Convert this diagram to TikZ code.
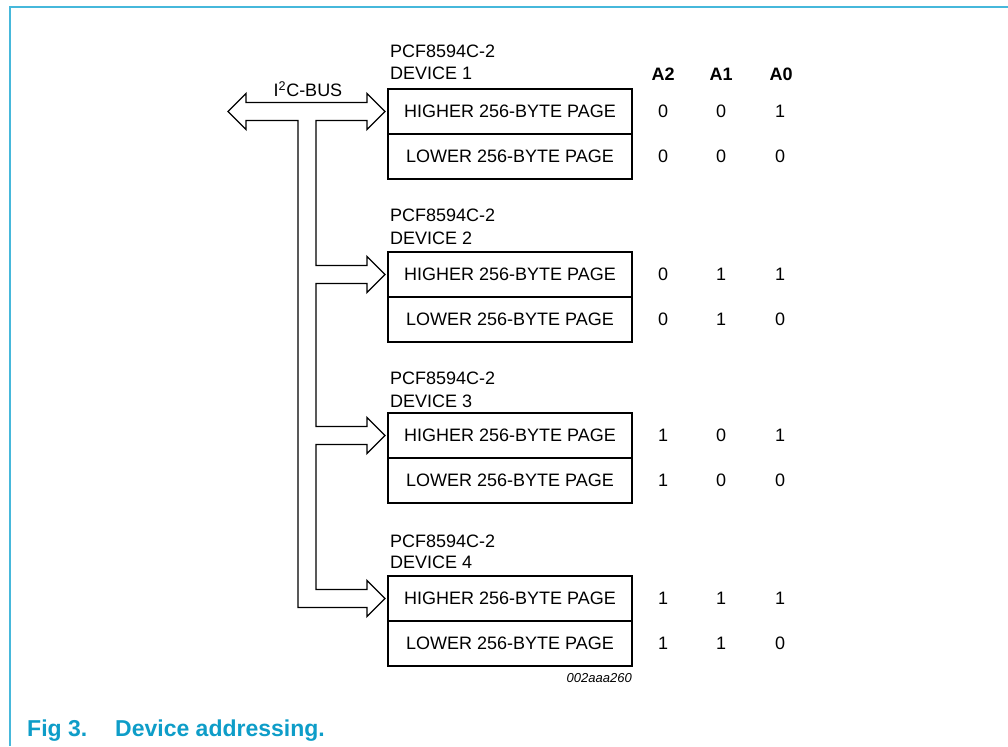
\documentclass[tikz,border=0pt]{standalone}
\usepackage{fontspec}
\setmainfont{Liberation Sans}
\usetikzlibrary{calc}
\definecolor{frameblue}{RGB}{70,184,219}
\definecolor{capblue}{RGB}{14,157,200}
\begin{document}
\begin{tikzpicture}[x=1pt,y=-1pt,
  txt/.style={font=\fontsize{18}{20}\selectfont, inner sep=0pt},
  cell/.style={draw, line width=2pt, minimum width=244pt, minimum height=45pt, inner sep=0pt, font=\fontsize{18}{20}\selectfont},
  hdr/.style={inner sep=0pt, font=\bfseries\fontsize{18}{20}\selectfont},
  captxt/.style={inner sep=0pt, text=capblue, font=\bfseries\fontsize{23}{25}\selectfont},
  busline/.style={line width=1.3pt, line join=miter},
  busarrow/.style={insert path={|- ($(#1.west)+(-20,-9)$) -- ++(0,-9) -- ($(#1.west)+(-2,0)$) -- ++(-18,18) -- ++(0,-9)}}
]
\useasboundingbox (0,0) rectangle (1008,746);
% frame
\draw[frameblue, line width=2.3pt] (10,746) -- (10,6.8) -- (1008,6.8);

% device cells
\node[cell] (h1) at (510,111.5) {HIGHER 256-BYTE PAGE};
\node[cell] (l1) at (510,156.5) {LOWER 256-BYTE PAGE};
\node[cell] (h2) at (510,274.5) {HIGHER 256-BYTE PAGE};
\node[cell] (l2) at (510,319.5) {LOWER 256-BYTE PAGE};
\node[cell] (h3) at (510,435.5) {HIGHER 256-BYTE PAGE};
\node[cell] (l3) at (510,480.5) {LOWER 256-BYTE PAGE};
\node[cell] (h4) at (510,598.5) {HIGHER 256-BYTE PAGE};
\node[cell] (l4) at (510,643.5) {LOWER 256-BYTE PAGE};

% device labels
\node[txt, anchor=west] (p1) at (390,51) {PCF8594C-2};
\node[txt, anchor=west] (d1) at (390,73) {DEVICE 1};
\node[txt, anchor=west] (p2) at (390,215) {PCF8594C-2};
\node[txt, anchor=west] (d2) at (390,238.5) {DEVICE 2};
\node[txt, anchor=west] (p3) at (390,378.5) {PCF8594C-2};
\node[txt, anchor=west] (d3) at (390,401) {DEVICE 3};
\node[txt, anchor=west] (p4) at (390,541) {PCF8594C-2};
\node[txt, anchor=west] (d4) at (390,562.5) {DEVICE 4};

% headers
\node[hdr] (a2) at (663,74) {A2};
\node[hdr] (a1) at (721,74) {A1};
\node[hdr] (a0) at (781,74) {A0};

% address values
\foreach \r/\y/\u/\v/\w in {1/111.5/0/0/1, 2/156.5/0/0/0, 3/274.5/0/1/1, 4/319.5/0/1/0,
                            5/435.5/1/0/1, 6/480.5/1/0/0, 7/598.5/1/1/1, 8/643.5/1/1/0}{
  \node[txt] (v\r a) at (663,\y) {\u};
  \node[txt] (v\r b) at (721,\y) {\v};
  \node[txt] (v\r c) at (780,\y) {\w};
}

% bus
\coordinate (busL) at (228,111.5);
\node[txt, anchor=base] (buslbl) at (308,97) {I\textsuperscript{2}C-BUS};
\draw[busline] (busL) -- ++(18,-18) -- ++(0,9)
  [busarrow=h1] -- ++(-51,0)
  [busarrow=h2] -- ++(-51,0)
  [busarrow=h3] -- ++(-51,0)
  [busarrow=h4] -- ++(-69,0)
  |- ($(busL)+(18,9)$) -- ++(0,9) -- cycle;

% code
\node[inner sep=0pt, anchor=base east, font=\itshape\fontsize{13}{15}\selectfont] (code) at (632,682) {002aaa260};

% caption
\node[captxt, anchor=base west] (fig) at (27,736) {Fig 3.};
\node[captxt, anchor=base west] (title) at (115,736) {Device addressing.};
\end{tikzpicture}
\end{document}
